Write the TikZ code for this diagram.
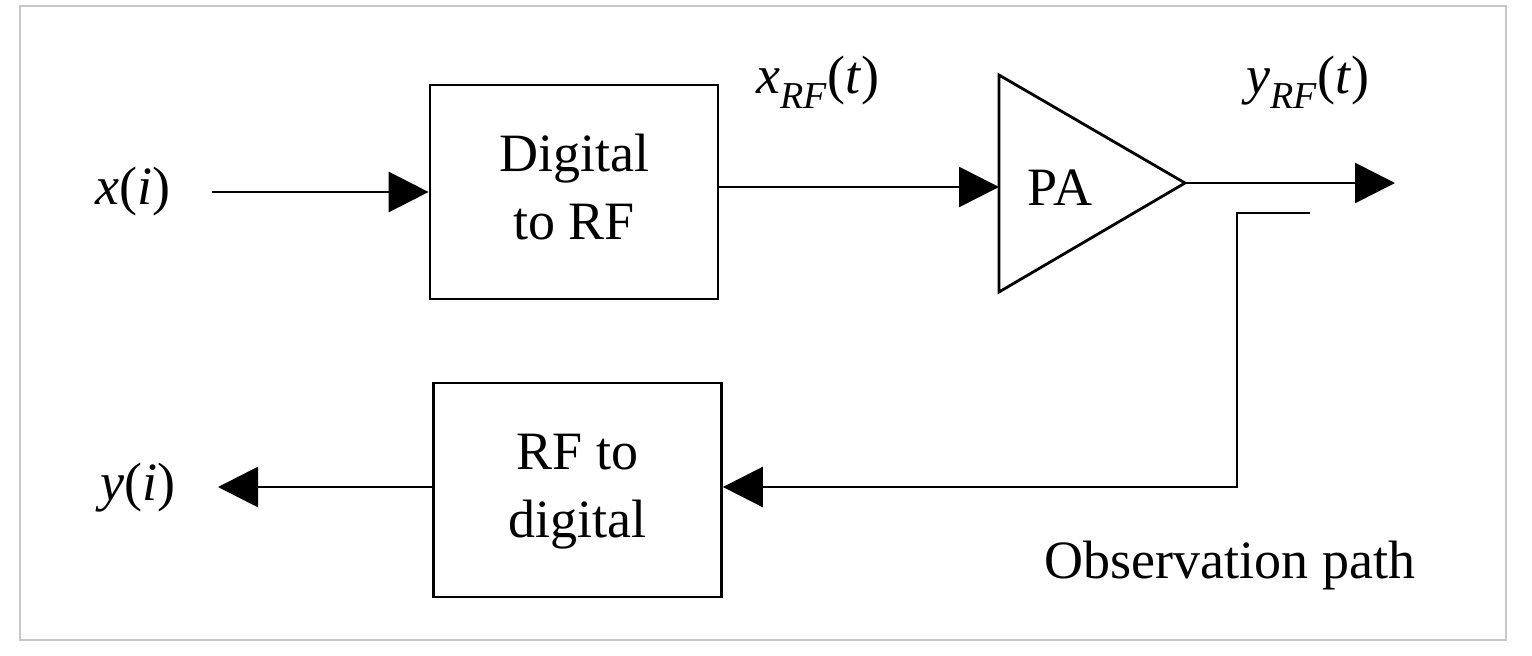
\documentclass[tikz,border=0pt]{standalone}
\usepackage{fontspec}
\setmainfont{Liberation Serif}
\usetikzlibrary{arrows.meta}
\tikzset{
  blk/.style={draw, line width=2.8pt, minimum width=288pt, minimum height=214pt, inner sep=0pt, align=center, font=\fontsize{54}{68}\selectfont},
  lbl/.style={inner sep=0pt, font=\fontsize{54}{64}\selectfont},
  wire/.style={line width=2.8pt},
  arr/.style={wire, -{Triangle[length=40pt,width=40pt]}},
}
\newcommand{\sublbl}[1]{\raisebox{-0.28em}{\fontsize{38}{38}\selectfont\textit{#1}}}
\newcommand{\blktext}[2]{\raisebox{6pt}{\begin{tabular}{@{}c@{}}#1\\#2\end{tabular}}}
\begin{document}
\begin{tikzpicture}[x=1pt,y=-1pt]
\useasboundingbox (0,0) rectangle (1532,656);
\draw[line width=1.5pt, draw={rgb,255:red,200;green,200;blue,200}] (20,6) rectangle (1506,640);
% blocks
\node[blk] (d2rf) at (574,192) {\blktext{Digital}{to RF}};
\node[blk] (rf2d) at (577.5,490) {\blktext{RF to}{digital}};
% PA triangle
\coordinate (paT) at (999,75);
\coordinate (paB) at (999,292);
\coordinate (paTip) at (1185,183);
\coordinate (paIn) at (999,187);
\draw[wire, line join=miter] (paT) -- (paTip) -- (paB) -- cycle;
\node[lbl] (pa) at (1060,188) {PA};
% labels
\node[lbl] (xi) at (133,192) {\textit{x}(\textit{i})};
\node[lbl] (yi) at (138,488) {\textit{y}(\textit{i})};
\node[lbl] (xrf) at (818,82) {\textit{x}\sublbl{RF}(\textit{t})};
\node[lbl] (yrf) at (1308,82) {\textit{y}\sublbl{RF}(\textit{t})};
\node[lbl, anchor=base] (obs) at (1230,578) {Observation path};
% coordinates for wire ends
\coordinate (inStart) at (212,192);
\coordinate (outEnd) at (1395,183);
\coordinate (cpA) at (1310,213);
\coordinate (cpB) at (1237,213);
\coordinate (cpC) at (1237,487);
\coordinate (yEnd) at (218,487);
% connectors
\draw[arr] (inStart) -- (d2rf.west |- inStart);
\draw[arr] (d2rf.east |- paIn) -- (paIn);
\draw[arr] (paTip) -- (outEnd);
\draw[arr, line join=miter] (cpA) -- (cpB) -- (cpC) -- (rf2d.east |- cpC);
\draw[arr] (rf2d.west |- yEnd) -- (yEnd);
\end{tikzpicture}
\end{document}
